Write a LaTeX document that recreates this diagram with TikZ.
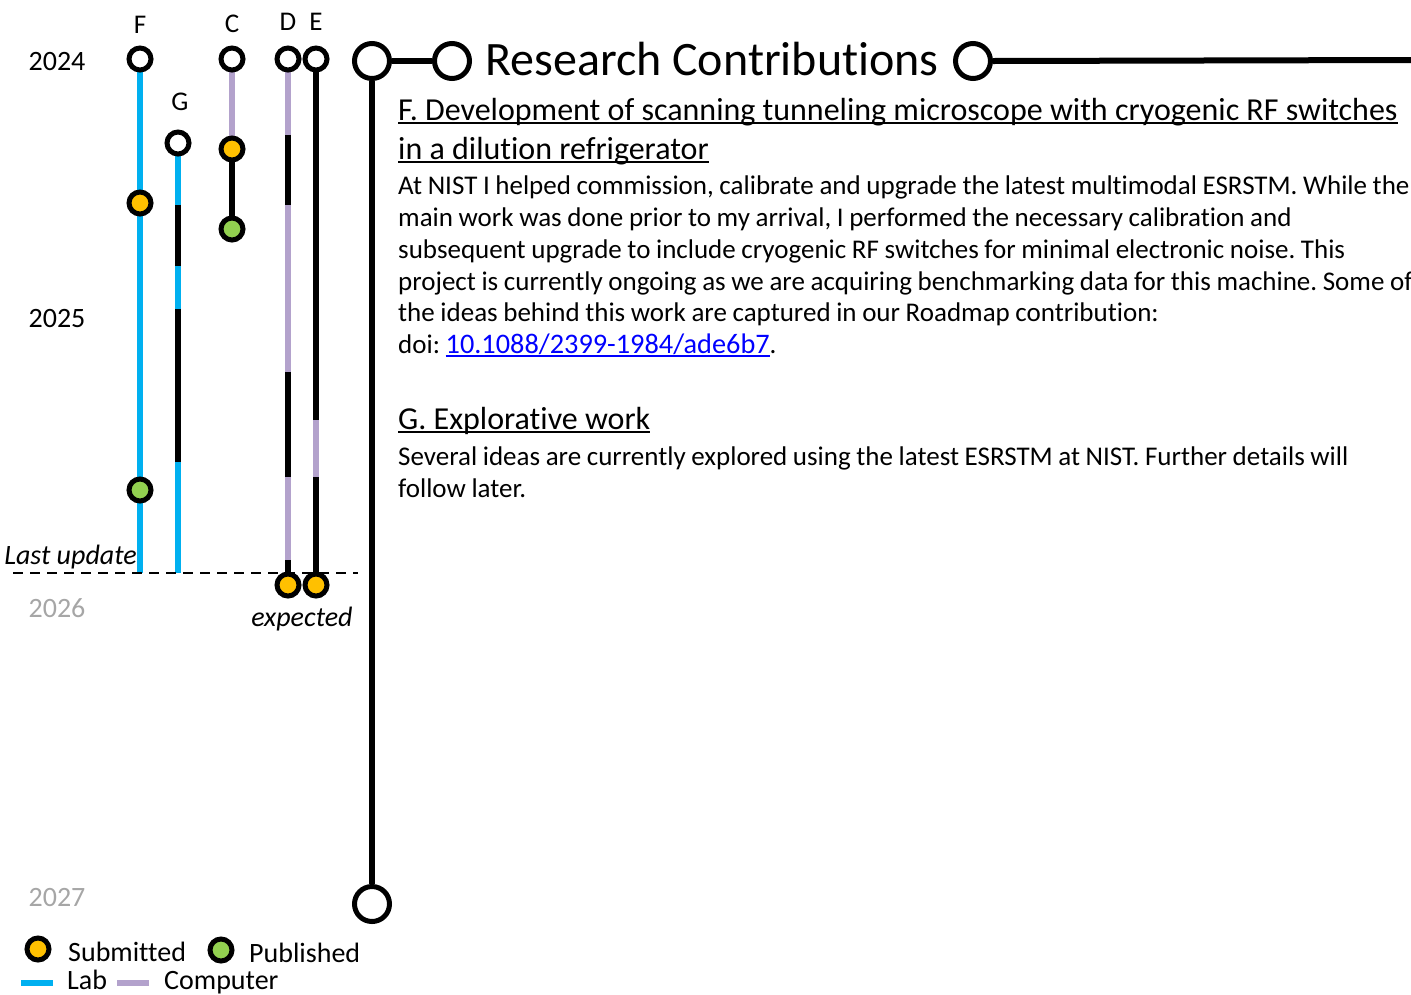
\documentclass[tikz,border=0pt]{standalone}
\usepackage{fontspec}
\setmainfont{Carlito}[Ligatures=NoCommon]
\newfontfamily\bodyfont{Carlito}[WordSpace=0.92,Ligatures=NoCommon]
\definecolor{labblue}{RGB}{0,176,240}
\definecolor{comppurple}{RGB}{179,162,204}
\definecolor{subor}{RGB}{255,192,0}
\definecolor{pubgr}{RGB}{146,208,80}
\definecolor{yeargray}{RGB}{166,166,166}
\definecolor{linkblue}{RGB}{0,0,255}
\newsavebox\myulbox
\newcommand\myul[3]{\sbox\myulbox{#3}\rlap{\rule[-#1]{\wd\myulbox}{#2}}\usebox\myulbox}
\tikzset{
  openc/.style={circle,draw=black,line width=5pt,fill=white,minimum size=22pt,inner sep=0pt},
  subc/.style={openc,fill=subor},
  pubc/.style={openc,fill=pubgr},
  bigc/.style={circle,draw=black,line width=5pt,fill=white,minimum size=35pt,inner sep=0pt},
  lab/.style={line width=6pt,draw=labblue},
  comp/.style={line width=6pt,draw=comppurple},
  blk/.style={line width=6pt,draw=black},
  lbl/.style={font=\fontsize{27}{30}\selectfont,inner sep=0pt},
  year/.style={font=\fontsize{28}{32}\selectfont,inner sep=0pt,anchor=base},
  body/.style={font=\bodyfont\fontsize{27}{32}\selectfont\frenchspacing,inner sep=0pt,anchor=base west},
  head/.style={font=\fontsize{32}{36}\selectfont\frenchspacing,inner sep=0pt,anchor=base west},
  leg/.style={font=\fontsize{28}{32}\selectfont,inner sep=0pt,anchor=base west},
}
\begin{document}
\begin{tikzpicture}[x=1pt,y=-1pt]
\useasboundingbox (0,0) rectangle (1411,994);
% ---- coordinates
\coordinate (F0) at (140,59);
\coordinate (Fs) at (140,203);
\coordinate (Fp) at (140,490);
\coordinate (Fe) at (140,573);
\coordinate (G0) at (178,143);
\coordinate (Ge) at (178,573);
\coordinate (C0) at (232,59);
\coordinate (Cs) at (232,149);
\coordinate (Cp) at (232,229);
\coordinate (D0) at (288,59);
\coordinate (Ds) at (288,585);
\coordinate (E0) at (316,59);
\coordinate (Es) at (316,585);
% ---- lines
\draw[lab] (F0) -- (Fe);
\draw[lab] (G0) -- (178,205);
\draw[blk] (178,205) -- (178,266);
\draw[lab] (178,266) -- (178,309);
\draw[blk] (178,309) -- (178,462);
\draw[lab] (178,462) -- (Ge);
\draw[comp] (C0) -- (Cs);
\draw[blk] (Cs) -- (Cp);
\draw[comp] (D0) -- (288,135);
\draw[blk] (288,135) -- (288,205);
\draw[comp] (288,205) -- (288,372);
\draw[blk] (288,372) -- (288,477);
\draw[comp] (288,477) -- (288,560);
\draw[blk] (288,560) -- (Ds);
\draw[blk] (E0) -- (316,420);
\draw[comp] (316,420) -- (316,477);
\draw[blk] (316,477) -- (Es);
% ---- dashed last update
\coordinate (LU0) at (13,573);
\coordinate (LU1) at (358,573);
\draw[line width=2pt,dash pattern=on 10pt off 7pt] (LU0) -- (LU1);
% ---- nodes on small timelines
\node[openc] (nF0) at (F0) {};
\node[subc] (nFs) at (Fs) {};
\node[pubc] (nFp) at (Fp) {};
\node[openc] (nG0) at (G0) {};
\node[openc] (nC0) at (C0) {};
\node[subc] (nCs) at (Cs) {};
\node[pubc] (nCp) at (Cp) {};
\node[openc] (nD0) at (D0) {};
\node[subc] (nDs) at (Ds) {};
\node[openc] (nE0) at (E0) {};
\node[subc] (nEs) at (Es) {};
% labels
\node[lbl] (lF) at (140,25) {F};
\node[lbl] (lG) at (180,102) {G};
\node[lbl] (lC) at (232,24) {C};
\node[lbl] (lD) at (288,22) {D};
\node[lbl] (lE) at (316,22) {E};
% years
\node[year] (y24) at (57,70) {2024};
\node[year] (y25) at (57,327) {2025};
\node[year,text=yeargray] (y26) at (57,617) {2026};
\node[year,text=yeargray] (y27) at (57,906) {2027};
\node[font=\fontsize{28}{32}\selectfont\itshape,inner sep=0pt,anchor=base east] (lastup) at (137,564) {Last update};
\node[font=\fontsize{28}{32}\selectfont\itshape,inner sep=0pt,anchor=base] (expd) at (302,626) {expected};
% ---- main timeline
\node[bigc] (M0) at (372,61) {};
\node[bigc] (M1) at (372,904) {};
\node[bigc] (T1) at (452,61) {};
\node[bigc] (T2) at (973,61) {};
\coordinate (Tend) at (1411,60);
\draw[blk] (M0) -- (M1);
\draw[blk] (M0) -- (T1);
\draw[blk] (T2.east) -- (Tend);
\node[font=\fontsize{48}{56}\selectfont,inner sep=0pt,anchor=base west] (title) at (485,75) {Research Contributions};
% ---- text F
\node[head] (hF1) at (398,120) {\myul{4pt}{2.5pt}{F. Development of scanning tunneling microscope with cryogenic RF switches}};
\node[head] (hF2) at (398,159) {\myul{4pt}{2.5pt}{in a dilution refrigerator}};
\node[body] (bF1) at (398,194) {At NIST I helped commission, calibrate and upgrade the latest multimodal ESRSTM. While the};
\node[body] (bF2) at (398,226) {main work was done prior to my arrival, I performed the necessary calibration and};
\node[body] (bF3) at (398,258) {subsequent upgrade to include cryogenic RF switches for minimal electronic noise. This};
\node[body] (bF4) at (398,290) {project is currently ongoing as we are acquiring benchmarking data for this machine. Some of};
\node[body] (bF5) at (398,321) {the ideas behind this work are captured in our Roadmap contribution:};
\node[body] (bF6) at (398,353) {doi: \textcolor{linkblue}{\fontsize{28.3}{32}\selectfont\myul{3.5pt}{2pt}{10.1088/2399-1984/ade6b7}}.};
% ---- text G
\node[head] (hG1) at (398,429) {\myul{4pt}{2.5pt}{G. Explorative work}};
\node[body] (bG1) at (398,465) {Several ideas are currently explored using the latest ESRSTM at NIST. Further details will};
\node[body] (bG2) at (398,497) {follow later.};
% ---- legend
\node[subc] (legS) at (38,949) {};
\node[leg] (legSt) at (68,961) {Submitted};
\node[pubc] (legP) at (221,950) {};
\node[leg] (legPt) at (249,962) {Published};
\coordinate (labA) at (21,983);
\coordinate (labB) at (53,983);
\draw[lab] (labA) -- (labB);
\node[leg] (legL) at (67,989) {Lab};
\coordinate (compA) at (117,983);
\coordinate (compB) at (149,983);
\draw[comp] (compA) -- (compB);
\node[leg] (legC) at (164,989) {Computer};
\end{tikzpicture}
\end{document}
